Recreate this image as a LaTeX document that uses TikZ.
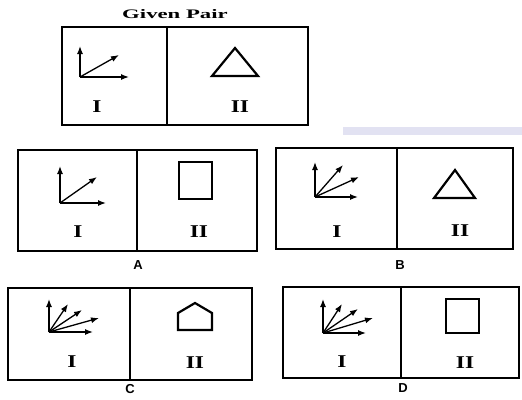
\documentclass[tikz,border=0pt]{standalone}
\usepackage{fontspec}
\setmainfont{Liberation Serif}
\setsansfont{Liberation Sans}
\newfontfamily\wideserif[FakeStretch=1.3]{Liberation Serif}
\newfontfamily\titleserif[FakeStretch=1.75]{Liberation Serif}
\usetikzlibrary{arrows.meta,positioning}

\definecolor{band}{RGB}{226,226,242}
\tikzset{
    panel/.style={draw,line width=1.7pt},
    vec/.style={-{Latex[length=8pt,width=6pt]},line width=1.3pt},
    figshape/.style={draw,line width=2.2pt,line join=miter},
    roman/.style={font=\wideserif\bfseries\fontsize{18}{20}\selectfont},
    optlabel/.style={font=\sffamily\bfseries\fontsize{13}{15}\selectfont}
}

\begin{document}
\begin{tikzpicture}[x=1pt,y=-1pt]
\useasboundingbox (0,0) rectangle (522,399);
\fill[band] (343,127) rectangle (522,135);

% given pair
\node[font=\titleserif\bfseries\fontsize{13}{15}\selectfont] (title) at (175,14) {Given Pair};
\coordinate (g-nw) at (62,27);
\coordinate (g-se) at (308,125);
\coordinate (g-mt) at (167,27);
\coordinate (g-mb) at (167,125);
\draw[panel] (g-nw) rectangle (g-se);
\draw[panel] (g-mt)--(g-mb);
\coordinate (g-o) at (80,77);
\foreach \x/\y [count=\i] in {80/46,119/55,129/77}
    \coordinate (g-e\i) at (\x,\y);
\foreach \i in {1,...,3}
    \draw[vec] (g-o)--(g-e\i);
\draw[figshape] (212,76)--(235,48)--(258,76)--cycle;
\node[roman] (g-one) at (97,107) {I};
\node[roman] (g-two) at (240,107) {II};

% option A
\coordinate (a-nw) at (18,150);
\coordinate (a-se) at (257,251);
\coordinate (a-mt) at (137,150);
\coordinate (a-mb) at (137,251);
\draw[panel] (a-nw) rectangle (a-se);
\draw[panel] (a-mt)--(a-mb);
\coordinate (a-o) at (60,203);
\foreach \x/\y [count=\i] in {60/166,97/177,106/203}
    \coordinate (a-e\i) at (\x,\y);
\foreach \i in {1,...,3}
    \draw[vec] (a-o)--(a-e\i);
\draw[figshape] (179,162) rectangle (212,199);
\node[roman] (a-one) at (78,232) {I};
\node[roman] (a-two) at (199,232) {II};
\node[optlabel] (a-lab) at (138,265) {A};

% option B
\coordinate (b-nw) at (276,148);
\coordinate (b-se) at (513,249);
\coordinate (b-mt) at (397,148);
\coordinate (b-mb) at (397,249);
\draw[panel] (b-nw) rectangle (b-se);
\draw[panel] (b-mt)--(b-mb);
\coordinate (b-o) at (315,197);
\foreach \x/\y [count=\i] in {315/162,343/165,359/177,358/197}
    \coordinate (b-e\i) at (\x,\y);
\foreach \i in {1,...,4}
    \draw[vec] (b-o)--(b-e\i);
\draw[figshape] (434,198)--(455,170)--(475,198)--cycle;
\node[roman] (b-one) at (337,232) {I};
\node[roman] (b-two) at (460,231) {II};
\node[optlabel] (b-lab) at (400,265) {B};

% option C
\coordinate (c-nw) at (8,288);
\coordinate (c-se) at (252,380);
\coordinate (c-mt) at (130,288);
\coordinate (c-mb) at (130,380);
\draw[panel] (c-nw) rectangle (c-se);
\draw[panel] (c-mt)--(c-mb);
\coordinate (c-o) at (49,332);
\foreach \x/\y [count=\i] in {49/299,68/304,82/310,99/318,93/332}
    \coordinate (c-e\i) at (\x,\y);
\foreach \i in {1,...,5}
    \draw[vec] (c-o)--(c-e\i);
\draw[figshape] (178,330)--(178,313)--(195,303)--(212,313)--(212,330)--cycle;
\node[roman] (c-one) at (72,362) {I};
\node[roman] (c-two) at (195,363) {II};
\node[optlabel] (c-lab) at (130,389) {C};

% option D
\coordinate (d-nw) at (283,287);
\coordinate (d-se) at (519,378);
\coordinate (d-mt) at (401,287);
\coordinate (d-mb) at (401,378);
\draw[panel] (d-nw) rectangle (d-se);
\draw[panel] (d-mt)--(d-mb);
\coordinate (d-o) at (323,333);
\foreach \x/\y [count=\i] in {323/299,342/304,358/309,373/318,366/333}
    \coordinate (d-e\i) at (\x,\y);
\foreach \i in {1,...,5}
    \draw[vec] (d-o)--(d-e\i);
\draw[figshape] (446,299) rectangle (479,333);
\node[roman] (d-one) at (342,362) {I};
\node[roman] (d-two) at (465,363) {II};
\node[optlabel] (d-lab) at (403,388) {D};
\end{tikzpicture}
\end{document}
